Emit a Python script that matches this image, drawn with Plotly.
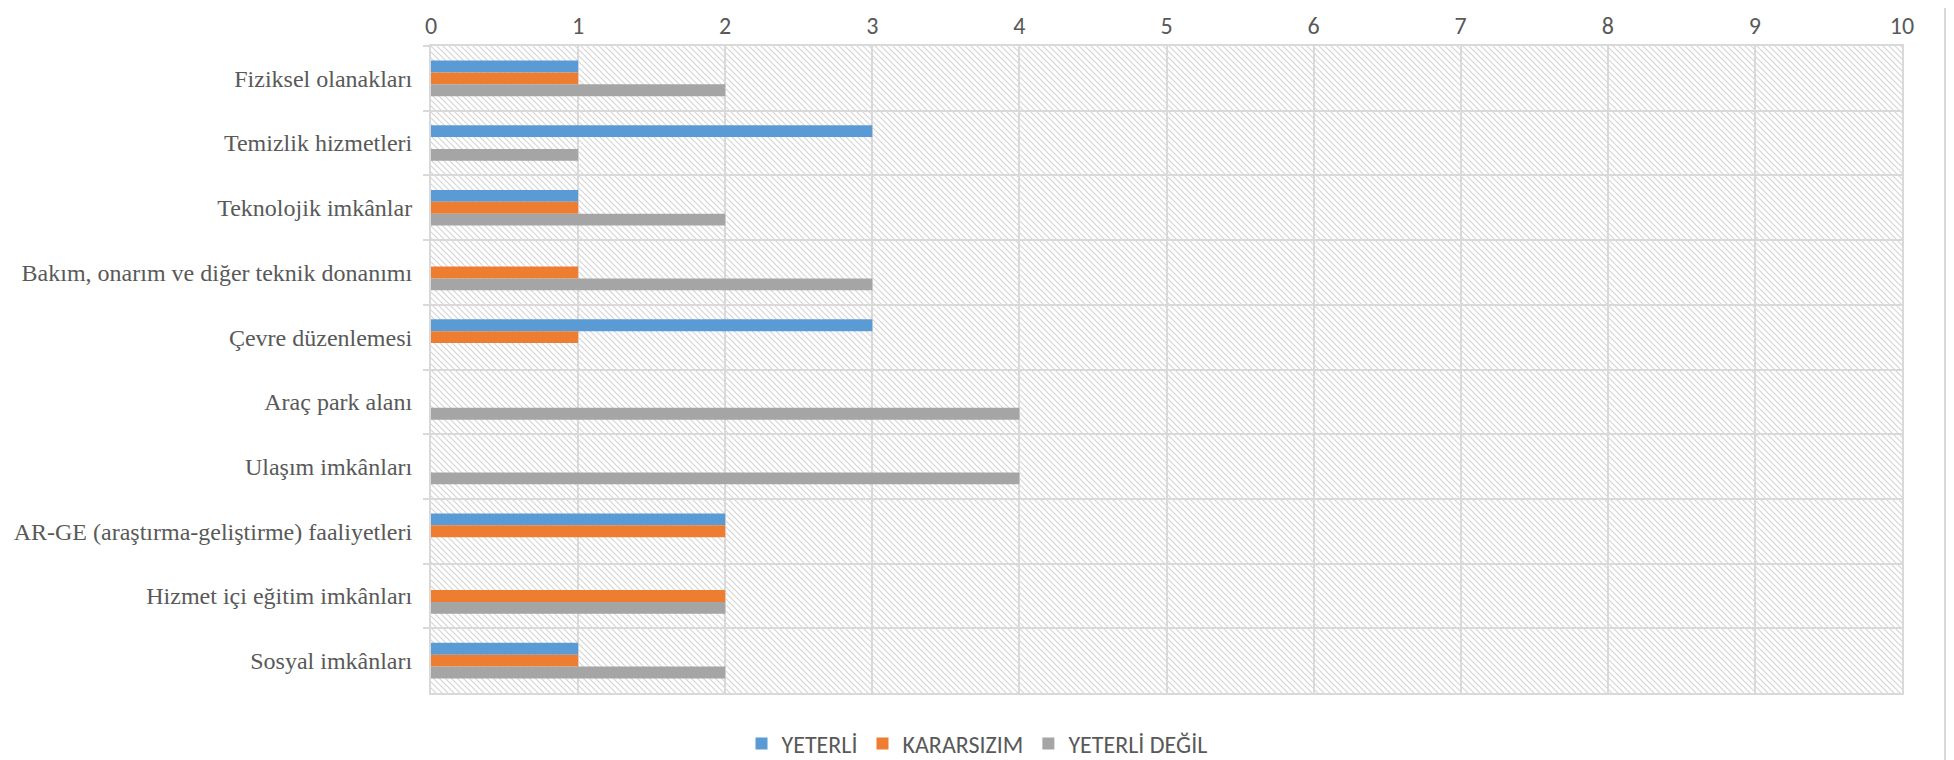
import plotly.graph_objects as go
import urllib.parse

categories = [
    "Fiziksel olanakları",
    "Temizlik hizmetleri",
    "Teknolojik imkânlar",
    "Bakım, onarım ve diğer teknik donanımı",
    "Çevre düzenlemesi",
    "Araç park alanı",
    "Ulaşım imkânları",
    "AR-GE (araştırma-geliştirme) faaliyetleri",
    "Hizmet içi eğitim imkânları",
    "Sosyal imkânları",
]
series_names = ["YETERLİ", "KARARSIZIM", "YETERLİ DEĞİL"]
yeterli = [1, 3, 1, 0, 3, 0, 0, 2, 0, 1]
kararsizim = [1, 0, 1, 1, 1, 0, 0, 2, 2, 1]
yeterli_degil = [2, 1, 2, 3, 0, 4, 4, 0, 2, 2]
x_ticks = list(range(0, 11))

colors = ["#5B9BD5", "#ED7D31", "#A5A5A5"]

# page body has an 8px margin, so the figure is 8px smaller and shifted
OFF = 8
W, H = 1954 - OFF, 760 - OFF
ML, MT = 431 - OFF, 46 - OFF
PR, PB = 1902 - OFF, 693 - OFF
MR, MB = W - PR, H - PB
PW, PH = PR - ML, PB - MT

fig = go.Figure()
for name, vals, c in zip(series_names, [yeterli, kararsizim, yeterli_degil], colors):
    fig.add_trace(go.Bar(
        y=categories, x=vals, name=name, orientation="h",
        marker=dict(color=c, line=dict(width=0)),
    ))

# hatched plot-area background (diagonal "\" lines)
svg = (
    f"<svg xmlns='http://www.w3.org/2000/svg' width='{PW}' height='{PH}'>"
    "<defs><pattern id='p' width='6' height='6' patternUnits='userSpaceOnUse'>"
    "<path d='M0,0 L6,6 M-1,5 L1,7 M5,-1 L7,1' stroke='#d4d4d4' stroke-width='1.1'/>"
    "</pattern></defs><rect width='100%' height='100%' fill='url(#p)'/></svg>"
)
src = "data:image/svg+xml;charset=utf-8," + urllib.parse.quote(svg)

grid = "#D9D9D9"
text_col = "#595959"
sans = "Calibri, Carlito, 'Open Sans', sans-serif"

fig.update_layout(
    width=W, height=H,
    margin=dict(l=ML, r=MR, t=MT, b=MB, autoexpand=False),
    paper_bgcolor="white", plot_bgcolor="white",
    barmode="group", bargap=0.45, bargroupgap=0,
    images=[dict(source=src, xref="paper", yref="paper", x=0, y=1,
                 sizex=1, sizey=1, sizing="stretch", xanchor="left",
                 yanchor="top", layer="below")],
    legend=dict(orientation="h", xref="container", yref="container",
                x=(977 - OFF) / W, xanchor="center", y=1 - (744 - OFF) / H,
                yanchor="middle",
                font=dict(family=sans, size=24, color=text_col),
                itemwidth=30, traceorder="normal"),
    showlegend=True,
    shapes=[dict(type="line", xref="paper", yref="paper",
                 x0=(1945 - OFF - ML) / PW, x1=(1945 - OFF - ML) / PW,
                 y0=-0.2, y1=1.2, line=dict(color=grid, width=2))],
)
fig.update_xaxes(
    side="top", range=[0, 10], tickvals=x_ticks, ticktext=[str(v) for v in x_ticks],
    showgrid=True, gridcolor=grid, gridwidth=2, zeroline=False,
    showline=True, linecolor=grid, linewidth=2, mirror=True,
    ticks="", tickfont=dict(family=sans, size=24, color=text_col),
    fixedrange=True,
)
fig.update_yaxes(
    autorange="reversed", type="category", tickson="boundaries",
    showgrid=True, gridcolor=grid, gridwidth=2,
    showline=True, linecolor=grid, linewidth=2, mirror=True,
    ticks="outside", ticklen=6, tickwidth=2, tickcolor=grid,
    ticklabelstandoff=12,
    tickfont=dict(family="'Times New Roman', 'Liberation Serif', serif",
                  size=24, color=text_col),
    fixedrange=True,
)

fig.write_html("out.html")
